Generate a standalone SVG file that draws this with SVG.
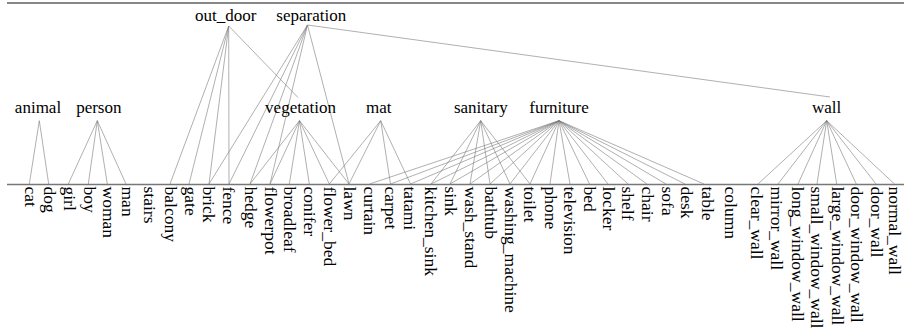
<svg xmlns="http://www.w3.org/2000/svg" width="904" height="328" viewBox="0 0 904 328">
<style>
text{font-family:"Liberation Serif","Times New Roman",serif;font-size:17px;fill:#000}
.n{text-anchor:middle}
.leaf text{font-size:17.5px}
#edges line{stroke:#7a7a7a;stroke-width:0.6;fill:none}
.rule{stroke:#111;stroke-width:1.2}
.base{stroke:#777;stroke-width:1.6}
</style>
<rect width="904" height="328" fill="#fff"/>
<line class="rule" x1="7" y1="3" x2="904" y2="3"/>
<line class="base" x1="7" y1="184.5" x2="904" y2="184.5"/>
<g id="edges">
<line x1="39.3" y1="120.7" x2="29.3" y2="184"/>
<line x1="39.3" y1="120.7" x2="48.7" y2="184"/>
<line x1="97.3" y1="120.7" x2="68.3" y2="184"/>
<line x1="97.3" y1="120.7" x2="88.3" y2="184"/>
<line x1="97.3" y1="120.7" x2="107.3" y2="184"/>
<line x1="97.3" y1="120.7" x2="126" y2="184"/>
<line x1="228.7" y1="26" x2="170" y2="184"/>
<line x1="228.7" y1="26" x2="189" y2="184"/>
<line x1="228.7" y1="26" x2="209" y2="184"/>
<line x1="228.7" y1="26" x2="229" y2="184"/>
<line x1="228.7" y1="26" x2="298" y2="97.5"/>
<line x1="307.5" y1="25" x2="209" y2="184"/>
<line x1="307.5" y1="25" x2="229" y2="184"/>
<line x1="307.5" y1="25" x2="250" y2="184"/>
<line x1="307.5" y1="25" x2="270" y2="184"/>
<line x1="307.5" y1="25" x2="349" y2="184"/>
<line x1="307.5" y1="25" x2="830" y2="97"/>
<line x1="299.5" y1="120.7" x2="250" y2="184"/>
<line x1="299.5" y1="120.7" x2="270" y2="184"/>
<line x1="299.5" y1="120.7" x2="289.3" y2="184"/>
<line x1="299.5" y1="120.7" x2="309.3" y2="184"/>
<line x1="299.5" y1="120.7" x2="329.3" y2="184"/>
<line x1="299.5" y1="120.7" x2="349" y2="184"/>
<line x1="380.7" y1="120.7" x2="329.3" y2="184"/>
<line x1="380.7" y1="120.7" x2="349" y2="184"/>
<line x1="380.7" y1="120.7" x2="390.5" y2="184"/>
<line x1="380.7" y1="120.7" x2="410.5" y2="184"/>
<line x1="480.7" y1="120.7" x2="431" y2="184"/>
<line x1="480.7" y1="120.7" x2="450" y2="184"/>
<line x1="480.7" y1="120.7" x2="470" y2="184"/>
<line x1="480.7" y1="120.7" x2="490" y2="184"/>
<line x1="480.7" y1="120.7" x2="510" y2="184"/>
<line x1="480.7" y1="120.7" x2="530" y2="184"/>
<line x1="559" y1="120.7" x2="369.5" y2="184"/>
<line x1="559" y1="120.7" x2="390.5" y2="184"/>
<line x1="559" y1="120.7" x2="410.5" y2="184"/>
<line x1="559" y1="120.7" x2="431" y2="184"/>
<line x1="559" y1="120.7" x2="450" y2="184"/>
<line x1="559" y1="120.7" x2="470" y2="184"/>
<line x1="559" y1="120.7" x2="490" y2="184"/>
<line x1="559" y1="120.7" x2="510" y2="184"/>
<line x1="559" y1="120.7" x2="530" y2="184"/>
<line x1="559" y1="120.7" x2="550" y2="184"/>
<line x1="559" y1="120.7" x2="570" y2="184"/>
<line x1="559" y1="120.7" x2="589.5" y2="184"/>
<line x1="559" y1="120.7" x2="608" y2="184"/>
<line x1="559" y1="120.7" x2="628" y2="184"/>
<line x1="559" y1="120.7" x2="647" y2="184"/>
<line x1="559" y1="120.7" x2="666" y2="184"/>
<line x1="559" y1="120.7" x2="685" y2="184"/>
<line x1="559" y1="120.7" x2="704" y2="184"/>
<line x1="826.7" y1="120.7" x2="758" y2="184"/>
<line x1="826.7" y1="120.7" x2="778" y2="184"/>
<line x1="826.7" y1="120.7" x2="798" y2="184"/>
<line x1="826.7" y1="120.7" x2="817" y2="184"/>
<line x1="826.7" y1="120.7" x2="836.7" y2="184"/>
<line x1="826.7" y1="120.7" x2="856.3" y2="184"/>
<line x1="826.7" y1="120.7" x2="876" y2="184"/>
<line x1="826.7" y1="120.7" x2="894.5" y2="184"/>
</g>
<g id="out_door"><text class="n" x="225.8" y="21">out_door</text></g>
<g id="separation"><text class="n" x="311.3" y="21">separation</text></g>
<g id="animal"><text class="n" x="38" y="112.5">animal</text></g>
<g id="person"><text class="n" x="98.8" y="112.5">person</text></g>
<g id="vegetation"><text class="n" x="300.5" y="112.5">vegetation</text></g>
<g id="mat"><text class="n" x="378.7" y="112.5">mat</text></g>
<g id="sanitary"><text class="n" x="480.8" y="112.5">sanitary</text></g>
<g id="furniture"><text class="n" x="559" y="112.5">furniture</text></g>
<g id="wall"><text class="n" x="826.7" y="112.5">wall</text></g>
<g class="leaf">
<g id="cat"><text transform="translate(24.8,186.5) rotate(90)">cat</text></g>
<g id="dog"><text transform="translate(44,186.5) rotate(90)">dog</text></g>
<g id="girl"><text transform="translate(63.5,186.5) rotate(90)">girl</text></g>
<g id="boy"><text transform="translate(83.5,186.5) rotate(90)">boy</text></g>
<g id="woman"><text transform="translate(102.5,186.5) rotate(90)">woman</text></g>
<g id="man"><text transform="translate(122,186.5) rotate(90)">man</text></g>
<g id="stairs"><text transform="translate(143.5,186.5) rotate(90)">stairs</text></g>
<g id="balcony"><text transform="translate(164.5,186.5) rotate(90)">balcony</text></g>
<g id="gate"><text transform="translate(184.5,186.5) rotate(90)">gate</text></g>
<g id="brick"><text transform="translate(202.5,186.5) rotate(90)">brick</text></g>
<g id="fence"><text transform="translate(222.5,186.5) rotate(90)">fence</text></g>
<g id="hedge"><text transform="translate(244.5,186.5) rotate(90)">hedge</text></g>
<g id="flowerpot"><text transform="translate(264.5,186.5) rotate(90)">flowerpot</text></g>
<g id="broadleaf"><text transform="translate(284,186.5) rotate(90)">broadleaf</text></g>
<g id="conifer"><text transform="translate(303.5,186.5) rotate(90)">conifer</text></g>
<g id="flower_bed"><text transform="translate(323.5,186.5) rotate(90)">flower_bed</text></g>
<g id="lawn"><text transform="translate(343.5,186.5) rotate(90)">lawn</text></g>
<g id="curtain"><text transform="translate(363.5,186.5) rotate(90)">curtain</text></g>
<g id="carpet"><text transform="translate(385,186.5) rotate(90)">carpet</text></g>
<g id="tatami"><text transform="translate(404,186.5) rotate(90)">tatami</text></g>
<g id="kitchen_sink"><text transform="translate(424.5,186.5) rotate(90)">kitchen_sink</text></g>
<g id="sink"><text transform="translate(445,186.5) rotate(90)">sink</text></g>
<g id="wash_stand"><text transform="translate(465,186.5) rotate(90)">wash_stand</text></g>
<g id="bathtub"><text transform="translate(484.5,186.5) rotate(90)">bathtub</text></g>
<g id="washing_machine"><text transform="translate(505,186.5) rotate(90)">washing_machine</text></g>
<g id="toilet"><text transform="translate(524,186.5) rotate(90)">toilet</text></g>
<g id="phone"><text transform="translate(545,186.5) rotate(90)">phone</text></g>
<g id="television"><text transform="translate(564,186.5) rotate(90)">television</text></g>
<g id="bed"><text transform="translate(583.5,186.5) rotate(90)">bed</text></g>
<g id="locker"><text transform="translate(602.7,186.5) rotate(90)">locker</text></g>
<g id="shelf"><text transform="translate(622,186.5) rotate(90)">shelf</text></g>
<g id="chair"><text transform="translate(642,186.5) rotate(90)">chair</text></g>
<g id="sofa"><text transform="translate(662,186.5) rotate(90)">sofa</text></g>
<g id="desk"><text transform="translate(681,186.5) rotate(90)">desk</text></g>
<g id="table"><text transform="translate(702,186.5) rotate(90)">table</text></g>
<g id="column"><text transform="translate(725,186.5) rotate(90)">column</text></g>
<g id="clear_wall"><text transform="translate(750.5,186.5) rotate(90)">clear_wall</text></g>
<g id="mirror_wall"><text transform="translate(770.5,186.5) rotate(90)">mirror_wall</text></g>
<g id="long_window_wall"><text transform="translate(792,186.5) rotate(90)">long_window_wall</text></g>
<g id="small_window_wall"><text transform="translate(810.5,186.5) rotate(90)">small_window_wall</text></g>
<g id="large_window_wall"><text transform="translate(832,186.5) rotate(90)">large_window_wall</text></g>
<g id="door_window_wall"><text transform="translate(850.5,186.5) rotate(90)">door_window_wall</text></g>
<g id="door_wall"><text transform="translate(870.5,186.5) rotate(90)">door_wall</text></g>
<g id="normal_wall"><text transform="translate(888.5,186.5) rotate(90)">normal_wall</text></g>
</g>
</svg>
